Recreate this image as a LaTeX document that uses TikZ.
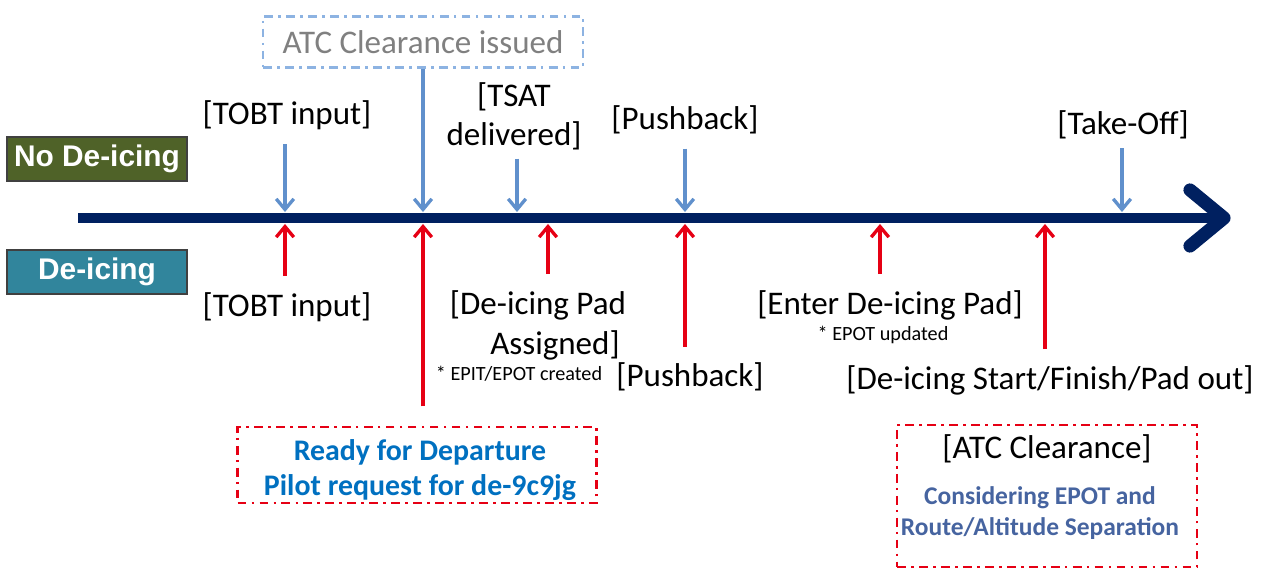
\documentclass[tikz,border=0pt]{standalone}
\usepackage{fontspec}
\setmainfont{Carlito}
\newfontfamily\casefont{Liberation Sans}
\usetikzlibrary{arrows.meta}

\definecolor{navy}{RGB}{0,32,96}
\definecolor{olivecase}{RGB}{79,98,40}
\definecolor{tealcase}{RGB}{49,133,156}
\definecolor{stepblue}{RGB}{96,144,204}
\definecolor{boxblue}{RGB}{141,179,226}
\definecolor{textblue}{RGB}{0,112,192}
\definecolor{noteblue}{RGB}{70,100,160}
\definecolor{alertred}{RGB}{230,0,20}

\tikzset{
  big/.style={font=\fontsize{18.8}{22}\selectfont, align=center, inner sep=0pt},
  small/.style={font=\fontsize{11.5}{13}\selectfont, inner sep=0pt},
  casebox/.style={draw=black!75, line width=1pt, minimum width=3.6cm, minimum height=0.88cm,
    text=white, font=\casefont\bfseries\fontsize{17}{18}\selectfont},
  dashdot/.style={line width=1.4pt, dash pattern=on 5pt off 3pt on 1.5pt off 3pt},
  timeline/.style={navy, line width=5.7pt},
  downarrow/.style={stepblue, line width=1.9pt, -{Straight Barb[length=6pt,width=10pt]},
    shorten >=3.4pt, shorten <=#1},
  downarrow/.default=8pt,
  uparrow/.style={alertred, line width=1.9pt, -{Straight Barb[length=6pt,width=10pt]},
    shorten >=3.4pt, shorten <=#1},
  uparrow/.default=9pt
}

\begin{document}
\begin{tikzpicture}[x=0.02cm, y=-0.02cm]
  \useasboundingbox (0,0) rectangle (1268,571);
  % Cases
  \node[casebox, fill=olivecase] (nodeice) at (97,159) {No De-icing};
  \node[casebox, fill=tealcase] (deice) at (97,272) {De-icing};
  % Timeline
  \coordinate (tl-start) at (78,218);
  \coordinate (tl-end) at (1224,218);
  \draw[timeline] (tl-start) -- ([xshift=-2pt]tl-end);
  \draw[timeline, line width=7.5pt, line cap=round, line join=round]
    ([shift={(-34,-28)}]tl-end) -- (tl-end) -- ([shift={(-34,28)}]tl-end);
  % Events on the timeline
  \coordinate (t1) at (285,218);
  \coordinate (t2) at (423,218);
  \coordinate (t3) at (517,218);
  \coordinate (t4) at (548,218);
  \coordinate (t5) at (685,218);
  \coordinate (t6) at (880,218);
  \coordinate (t7) at (1045,218);
  \coordinate (t8) at (1122,218);
  % No De-icing labels
  \node[big, draw=boxblue, dashdot, inner xsep=11pt, inner ysep=8pt, text=gray]
    (atc) at (423,42) {ATC Clearance issued};
  \node[big] (tobtA) at (287,115) {[TOBT input]};
  \node[big] (tsat) at (514,116) {[TSAT\\delivered]};
  \node[big] (pushA) at (685,120) {[Pushback]};
  \node[big] (takeoff) at (1123,125) {[Take-Off]};
  % De-icing labels
  \node[big] (tobtB) at (287,307) {[TOBT input]};
  \node[big] (padA) at (538,305) {[De-icing Pad};
  \node[big] (padB) at (555,345) {Assigned]};
  \node[small] (padnote) at (519,374) {* EPIT/EPOT created};
  \node[big] (pushB) at (690,377) {[Pushback]};
  \node[big] (enter) at (890,305) {[Enter De-icing Pad]};
  \node[small] (enternote) at (883,335) {* EPOT updated};
  \node[big] (start) at (1050,380) {[De-icing Start/Finish/Pad out]};
  % Boxes below
  \node[draw=alertred, dashdot, minimum width=7.18cm, minimum height=1.52cm, inner sep=0pt]
    (ready) at (417,465) {};
  \node[align=center, text=textblue, font=\bfseries\fontsize{17}{19.5}\selectfont, inner sep=0pt]
    (readytext) at (420,470) {Ready for Departure\\Pilot request for de-9c9jg};
  \node[draw=alertred, dashdot, minimum width=6cm, minimum height=2.84cm, inner sep=0pt]
    (clear) at (1047,496) {};
  \node[big] (cleartitle) at (1047,449) {[ATC Clearance]};
  \node[align=center, text=noteblue, font=\bfseries\fontsize{14.5}{17.5}\selectfont, inner sep=0pt]
    (clearnote) at (1040,513) {Considering EPOT and\\Route/Altitude Separation};
  % Arrows, no de-icing
  \draw[downarrow] (tobtA.south -| t1) -- (t1);
  \draw[downarrow=0pt] (atc.south -| t2) -- (t2);
  \draw[downarrow=5pt] (tsat.south -| t3) -- (t3);
  \draw[downarrow] (pushA.south -| t5) -- (t5);
  \draw[downarrow=5pt] (takeoff.south -| t8) -- (t8);
  % Arrows, de-icing
  \draw[uparrow] (tobtB.north -| t1) -- (t1);
  \draw[uparrow=11pt] (ready.north -| t2) -- (t2);
  \draw[uparrow] (padA.north -| t4) -- (t4);
  \draw[uparrow] (pushB.north -| t5) -- (t5);
  \draw[uparrow] (enter.north -| t6) -- (t6);
  \draw[uparrow] (start.north -| t7) -- (t7);
\end{tikzpicture}
\end{document}
